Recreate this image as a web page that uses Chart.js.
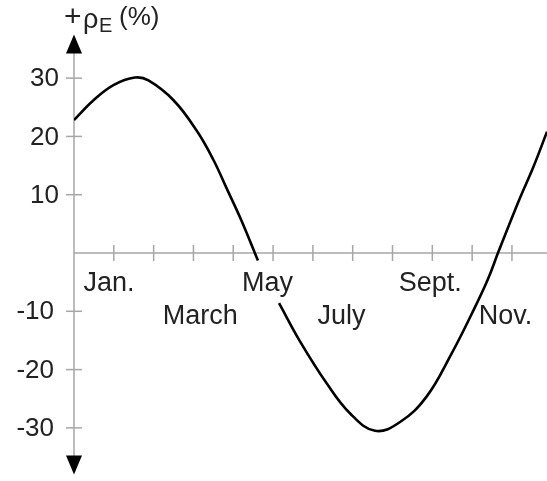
<!DOCTYPE html>
<html>
<head>
<meta charset="utf-8">
<script src="https://cdn.jsdelivr.net/npm/chart.js@4/dist/chart.umd.min.js"></script>
<style>
  html, body { margin: 0; padding: 0; background: #fff; }
  #wrap { width: 547px; height: 481px; position: relative; }
</style>
</head>
<body>
<div id="wrap"><canvas id="c" width="547" height="481"></canvas></div>
<script>
// ---- data ----
const monthPos = [0, 0.49, 0.99, 1.53, 1.87, 2.5, 3.08, 3.5, 3.84, 4.21, 4.62, 4.88, 5.15, 5.68, 6.35, 6.93, 7.56, 8.19, 8.86, 9.48, 10.0, 10.39, 10.66, 11.18, 11.54, 11.88];
const rhoE     = [22.8, 26.2, 28.8, 30.1, 29.6, 26.2, 21.0, 16.0, 11.0, 5.5, -1.3, null, -8.6, -15.2, -22.4, -27.5, -30.5, -29.0, -24.6, -17.3, -10.3, -4.6, 0.2, 9.1, 14.8, 20.8];
const yTicks = [30, 20, 10, -10, -20, -30];
const xTicks = [1, 2, 3, 4, 5, 6, 7, 8, 9, 10, 11];
const monthLabels = ['Jan.', 'March', 'May', 'July', 'Sept.', 'Nov.'];
const monthLabelAt = [0.88, 3.17, 4.86, 6.72, 8.95, 10.84];
const monthLabelRow = [0, 1, 0, 1, 0, 1];

const FONT = '"Liberation Sans", Arial, Helvetica, sans-serif';
const TEXT = '#222';
const AXIS = '#a6a6a6';

const axesPlugin = {
  id: 'customAxes',
  beforeDatasetsDraw(chart) {
    const ctx = chart.ctx;
    const xs = chart.scales.x, ys = chart.scales.y;
    const ca = chart.chartArea;
    const x0 = xs.getPixelForValue(0);
    const y0 = ys.getPixelForValue(0);
    ctx.save();
    ctx.strokeStyle = AXIS;
    ctx.lineWidth = 1.5;
    // y axis line
    ctx.beginPath();
    ctx.moveTo(x0, ca.top + 18);
    ctx.lineTo(x0, ca.bottom - 18);
    ctx.stroke();
    // x axis line
    ctx.beginPath();
    ctx.moveTo(x0, y0);
    ctx.lineTo(chart.width, y0);
    ctx.stroke();
    // x ticks
    xTicks.forEach(v => {
      const px = xs.getPixelForValue(v);
      ctx.beginPath();
      ctx.moveTo(px, y0 - 8);
      ctx.lineTo(px, y0 + 8);
      ctx.stroke();
    });
    // y ticks + labels
    ctx.fillStyle = TEXT;
    ctx.font = '26px ' + FONT;
    ctx.textAlign = 'right';
    ctx.textBaseline = 'middle';
    yTicks.forEach(v => {
      const py = ys.getPixelForValue(v);
      ctx.beginPath();
      ctx.moveTo(x0 - 8, py);
      ctx.lineTo(x0 + 8, py);
      ctx.stroke();
      ctx.fillText(String(v), v < 0 ? x0 - 20 : x0 - 15, py + 1);
    });
    // arrows
    ctx.fillStyle = '#000';
    ctx.beginPath();
    ctx.moveTo(x0, ca.top);
    ctx.lineTo(x0 - 8, ca.top + 19);
    ctx.lineTo(x0 + 8, ca.top + 19);
    ctx.closePath();
    ctx.fill();
    ctx.beginPath();
    ctx.moveTo(x0, ca.bottom);
    ctx.lineTo(x0 - 8, ca.bottom - 19);
    ctx.lineTo(x0 + 8, ca.bottom - 19);
    ctx.closePath();
    ctx.fill();
    // month labels
    ctx.fillStyle = TEXT;
    ctx.font = '27px ' + FONT;
    ctx.textAlign = 'center';
    ctx.textBaseline = 'alphabetic';
    monthLabels.forEach((t, i) => {
      const px = xs.getPixelForValue(monthLabelAt[i]);
      const py = y0 + (monthLabelRow[i] ? 71 : 38);
      ctx.fillText(t, px, py);
    });
    // axis title  +ρE (%)
    ctx.textAlign = 'left';
    ctx.font = '30px ' + FONT;
    ctx.fillText('+', 64, 26);
    ctx.font = '27px ' + FONT;
    ctx.fillText('ρ', 83, 28);
    ctx.font = '20px ' + FONT;
    ctx.fillText('E', 99, 32);
    ctx.font = '26px ' + FONT;
    ctx.fillText('(%)', 119, 25);
    ctx.restore();
  }
};

new Chart(document.getElementById('c'), {
  type: 'scatter',
  data: {
    datasets: [{
      data: monthPos.map((x, i) => ({ x: x, y: rhoE[i] })),
      showLine: true,
      spanGaps: false,
      borderColor: '#000',
      borderWidth: 2.6,
      pointRadius: 0,
      tension: 0.4,
      fill: false
    }]
  },
  options: {
    responsive: false,
    animation: false,
    events: [],
    layout: { padding: { left: 74, right: 0, top: 34.4, bottom: 6.5 } },
    plugins: { legend: { display: false }, tooltip: { enabled: false }, title: { display: false } },
    scales: {
      x: { type: 'linear', min: 0, max: 11.88, display: false },
      y: { type: 'linear', min: -38, max: 37.5, display: false }
    }
  },
  plugins: [axesPlugin]
});
</script>
</body>
</html>
